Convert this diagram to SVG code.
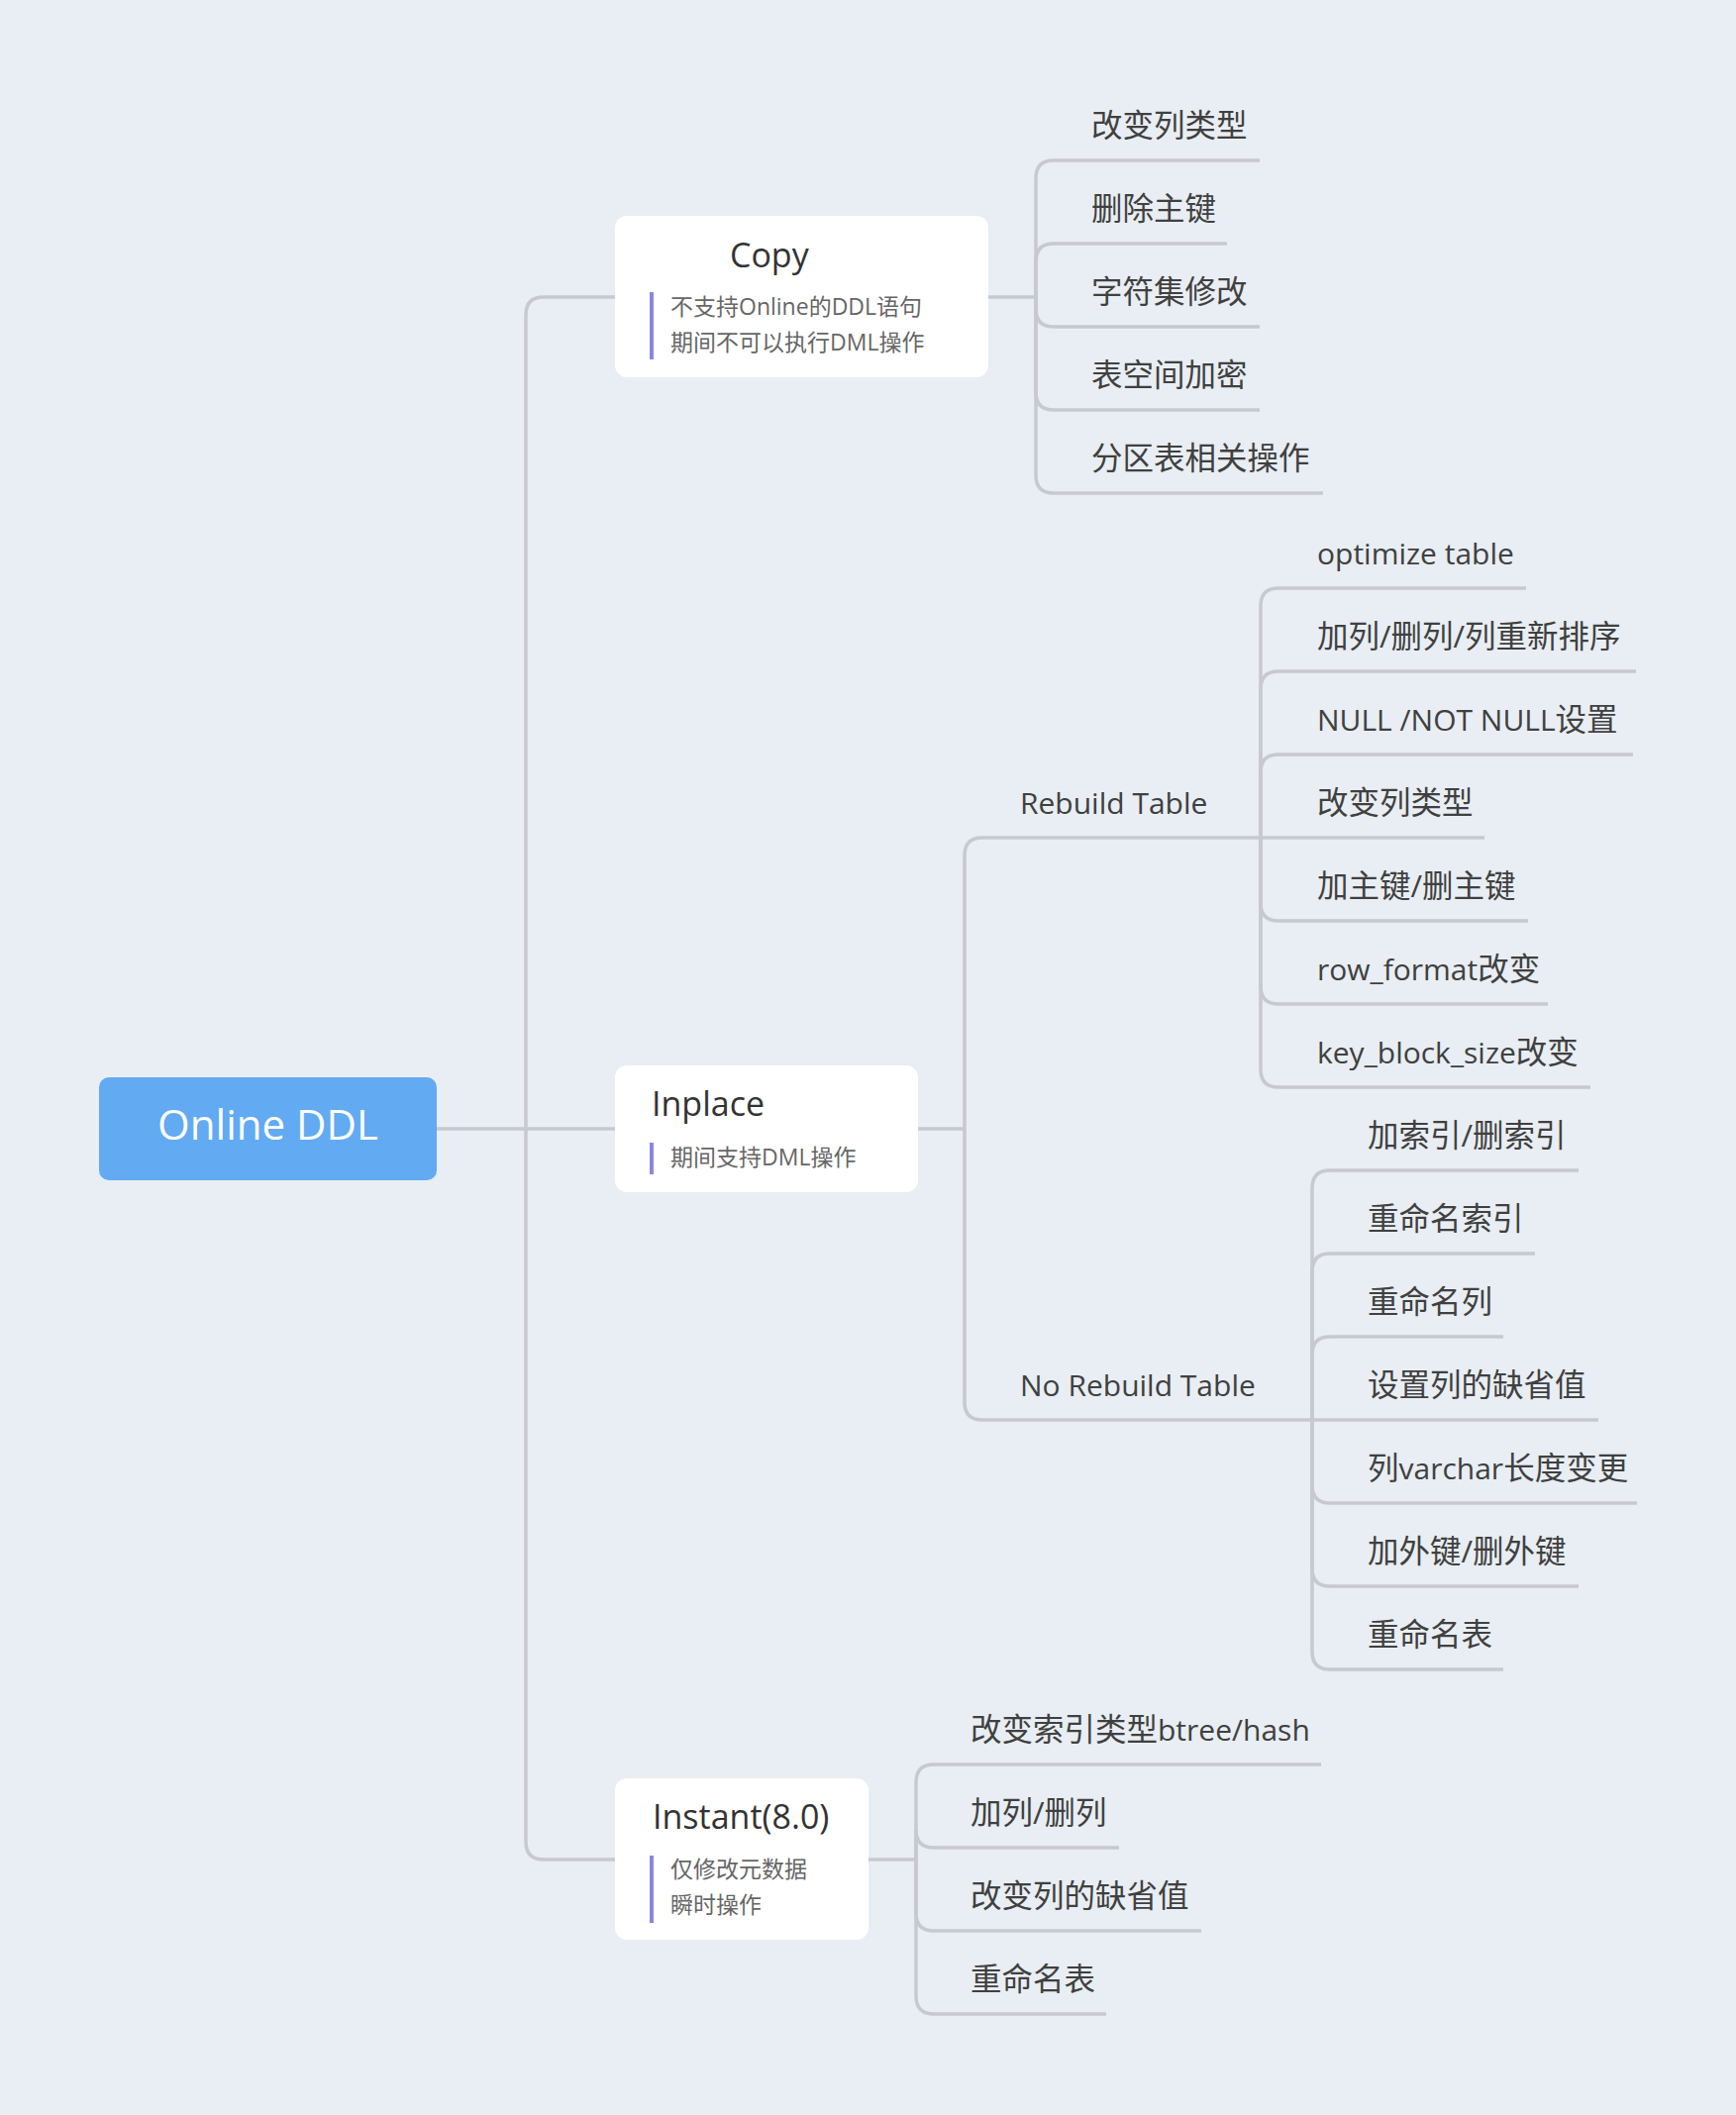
<svg xmlns="http://www.w3.org/2000/svg" width="1753" height="2136" viewBox="0 0 1753 2136">
<style>
.bg{fill:#e8eef3}
.conn path{fill:none;stroke:#c8c9ce;stroke-width:3.5}
.box{fill:#ffffff}
.root{fill:#62aaf2}
.t{font-family:"Open Sans","Noto Sans CJK SC",sans-serif;fill:#404040;font-size:30px}
.c{font-size:31.5px}
.title{font-family:"Open Sans","Noto Sans CJK SC",sans-serif;fill:#333333;font-size:34px}
.note{font-family:"Open Sans","Noto Sans CJK SC",sans-serif;fill:#666666;font-size:23px}
.bar{fill:#8a87e0}
.rt{font-family:"Open Sans","Noto Sans CJK SC",sans-serif;fill:#ffffff;font-size:42px}
</style>
<rect class="bg" x="0" y="0" width="1753" height="2136"/>
<g id="connectors" class="conn">
<path d="M441,1140 H621"/>
<path d="M531,1140 V318 Q531,300 549,300 H621"/>
<path d="M531,1140 V1860 Q531,1878 549,1878 H621"/>
<path d="M998,300 H1046"/>
<path d="M1046,300 V180 Q1046,162 1064,162 H1272"/>
<path d="M1046,300 V264 Q1046,246 1064,246 H1239"/>
<path d="M1046,300 V312 Q1046,330 1064,330 H1272"/>
<path d="M1046,300 V396 Q1046,414 1064,414 H1272"/>
<path d="M1046,300 V480 Q1046,498 1064,498 H1336"/>
<path d="M927,1140 H974"/>
<path d="M974,1140 V864 Q974,846 992,846 H1273"/>
<path d="M974,1140 V1416 Q974,1434 992,1434 H1325"/>
<path d="M1273,846 V612 Q1273,594 1291,594 H1541"/>
<path d="M1273,846 V696 Q1273,678 1291,678 H1652"/>
<path d="M1273,846 V780 Q1273,762 1291,762 H1649"/>
<path d="M1273,846 H1499"/>
<path d="M1273,846 V912 Q1273,930 1291,930 H1543"/>
<path d="M1273,846 V996 Q1273,1014 1291,1014 H1563"/>
<path d="M1273,846 V1080 Q1273,1098 1291,1098 H1606"/>
<path d="M1325,1434 V1200 Q1325,1182 1343,1182 H1594"/>
<path d="M1325,1434 V1284 Q1325,1266 1343,1266 H1550"/>
<path d="M1325,1434 V1368 Q1325,1350 1343,1350 H1518"/>
<path d="M1325,1434 H1614"/>
<path d="M1325,1434 V1500 Q1325,1518 1343,1518 H1653"/>
<path d="M1325,1434 V1584 Q1325,1602 1343,1602 H1594"/>
<path d="M1325,1434 V1668 Q1325,1686 1343,1686 H1518"/>
<path d="M877,1878 H925"/>
<path d="M925,1878 V1800 Q925,1782 943,1782 H1334"/>
<path d="M925,1878 V1848 Q925,1866 943,1866 H1130"/>
<path d="M925,1878 V1932 Q925,1950 943,1950 H1213"/>
<path d="M925,1878 V2016 Q925,2034 943,2034 H1117"/>
</g>
<g id="root">
<rect class="root" x="100" y="1088" width="341" height="104" rx="10"/>
<text class="rt" x="270.5" y="1151" text-anchor="middle">Online DDL</text>
</g>
<g id="copy">
<rect class="box" x="621" y="218" width="377" height="163" rx="12"/>
<text class="title" x="737" y="270">Copy</text>
<rect class="bar" x="656" y="295" width="4" height="68"/>
<text class="note" x="677" y="318">不支持Online的DDL语句</text>
<text class="note" x="677" y="354">期间不可以执行DML操作</text>
</g>
<g id="copy-children">
<text class="t c" x="1102" y="138">改变列类型</text>
<text class="t c" x="1102" y="222">删除主键</text>
<text class="t c" x="1102" y="306">字符集修改</text>
<text class="t c" x="1102" y="390">表空间加密</text>
<text class="t c" x="1102" y="474">分区表相关操作</text>
</g>
<g id="inplace">
<rect class="box" x="621" y="1076" width="306" height="128" rx="12"/>
<text class="title" x="658" y="1127">Inplace</text>
<rect class="bar" x="656" y="1154" width="4" height="32"/>
<text class="note" x="677" y="1177">期间支持DML操作</text>
</g>
<g id="rebuild">
<text class="t" x="1030" y="822">Rebuild Table</text>
</g>
<g id="rebuild-children">
<text class="t" x="1330" y="570">optimize table</text>
<text class="t c" x="1330" y="654">加列/删列/列重新排序</text>
<text class="t" x="1330" y="738">NULL /NOT NULL<tspan class="c">设置</tspan></text>
<text class="t c" x="1330" y="822">改变列类型</text>
<text class="t c" x="1330" y="906">加主键/删主键</text>
<text class="t" x="1330" y="990">row_format<tspan class="c">改变</tspan></text>
<text class="t" x="1330" y="1074">key_block_size<tspan class="c">改变</tspan></text>
</g>
<g id="norebuild">
<text class="t" x="1030" y="1410">No Rebuild Table</text>
</g>
<g id="norebuild-children">
<text class="t c" x="1381" y="1158">加索引/删索引</text>
<text class="t c" x="1381" y="1242">重命名索引</text>
<text class="t c" x="1381" y="1326">重命名列</text>
<text class="t c" x="1381" y="1410">设置列的缺省值</text>
<text class="t" x="1381" y="1494"><tspan class="c">列</tspan>varchar<tspan class="c">长度变更</tspan></text>
<text class="t c" x="1381" y="1578">加外键/删外键</text>
<text class="t c" x="1381" y="1662">重命名表</text>
</g>
<g id="instant">
<rect class="box" x="621" y="1796" width="256" height="163" rx="12"/>
<text class="title" x="659" y="1847">Instant(8.0)</text>
<rect class="bar" x="656" y="1874" width="4" height="68"/>
<text class="note" x="677" y="1896">仅修改元数据</text>
<text class="note" x="677" y="1932">瞬时操作</text>
</g>
<g id="instant-children">
<text class="t" x="980" y="1758"><tspan class="c">改变索引类型</tspan>btree/hash</text>
<text class="t c" x="980" y="1842">加列/删列</text>
<text class="t c" x="980" y="1926">改变列的缺省值</text>
<text class="t c" x="980" y="2010">重命名表</text>
</g>
</svg>
